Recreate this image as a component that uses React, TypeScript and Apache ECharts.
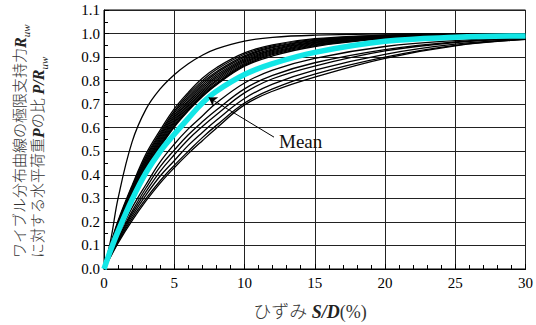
import React, { useEffect, useRef } from "react";
import * as echarts from "echarts";

// strain S/D (%) sample points
const X = [0, 0.5, 1, 2, 3, 4, 5, 6, 7, 8, 10, 12, 15, 20, 25, 30];

// steep outlier curve
const S1 = [0, 0.13, 0.3, 0.54, 0.68, 0.765, 0.825, 0.872, 0.908, 0.935, 0.968, 0.984, 0.993, 0.998, 1.0, 1.0];

// main bundle (top to bottom)
const B1 = [0, 0.11, 0.205, 0.355, 0.49, 0.59, 0.68, 0.75, 0.81, 0.855, 0.918, 0.952, 0.978, 0.993, 0.998, 1.0];
const B2 = [0, 0.108, 0.2, 0.35, 0.48, 0.58, 0.67, 0.742, 0.8, 0.847, 0.912, 0.948, 0.975, 0.992, 0.997, 0.999];
const B3 = [0, 0.105, 0.198, 0.345, 0.472, 0.572, 0.662, 0.733, 0.792, 0.838, 0.905, 0.943, 0.972, 0.991, 0.997, 0.999];
const B4 = [0, 0.103, 0.195, 0.34, 0.465, 0.565, 0.653, 0.725, 0.784, 0.832, 0.9, 0.94, 0.97, 0.99, 0.996, 0.998];
const B5 = [0, 0.1, 0.19, 0.335, 0.458, 0.558, 0.645, 0.716, 0.776, 0.824, 0.894, 0.935, 0.967, 0.988, 0.995, 0.998];
const B6 = [0, 0.1, 0.188, 0.33, 0.452, 0.551, 0.638, 0.709, 0.768, 0.817, 0.889, 0.931, 0.964, 0.987, 0.995, 0.998];
const B7 = [0, 0.098, 0.185, 0.326, 0.445, 0.545, 0.63, 0.701, 0.76, 0.81, 0.884, 0.927, 0.961, 0.986, 0.994, 0.997];
const B8 = [0, 0.096, 0.183, 0.322, 0.44, 0.539, 0.624, 0.694, 0.753, 0.803, 0.879, 0.923, 0.958, 0.984, 0.993, 0.997];
const B9 = [0, 0.095, 0.18, 0.318, 0.434, 0.532, 0.617, 0.687, 0.746, 0.797, 0.874, 0.919, 0.955, 0.983, 0.993, 0.997];
const B10 = [0, 0.093, 0.178, 0.315, 0.43, 0.527, 0.61, 0.68, 0.74, 0.79, 0.869, 0.915, 0.952, 0.981, 0.992, 0.996];
const B11 = [0, 0.092, 0.176, 0.312, 0.425, 0.523, 0.607, 0.676, 0.735, 0.785, 0.865, 0.91, 0.949, 0.98, 0.991, 0.996];
const B12 = [0, 0.09, 0.175, 0.31, 0.42, 0.518, 0.603, 0.672, 0.732, 0.782, 0.861, 0.905, 0.945, 0.978, 0.99, 0.995];

// lower curves (top to bottom)
const L1 = [0, 0.075, 0.14, 0.26, 0.36, 0.455, 0.53, 0.595, 0.65, 0.705, 0.79, 0.845, 0.895, 0.945, 0.97, 0.982];
const L2 = [0, 0.07, 0.13, 0.245, 0.345, 0.435, 0.505, 0.57, 0.625, 0.675, 0.765, 0.822, 0.876, 0.932, 0.965, 0.98];
const L3 = [0, 0.065, 0.125, 0.235, 0.33, 0.415, 0.485, 0.55, 0.605, 0.655, 0.748, 0.808, 0.862, 0.926, 0.962, 0.979];
const L4 = [0, 0.06, 0.12, 0.225, 0.315, 0.395, 0.46, 0.525, 0.58, 0.632, 0.724, 0.785, 0.845, 0.912, 0.955, 0.976];
const L5 = [0, 0.058, 0.115, 0.215, 0.3, 0.375, 0.44, 0.5, 0.558, 0.61, 0.705, 0.765, 0.828, 0.9, 0.95, 0.975];
const L6 = [0, 0.055, 0.11, 0.205, 0.29, 0.365, 0.43, 0.49, 0.545, 0.598, 0.697, 0.755, 0.815, 0.895, 0.948, 0.975];

// mean curve
const MEAN = [0, 0.085, 0.16, 0.295, 0.41, 0.5, 0.572, 0.64, 0.705, 0.755, 0.826, 0.872, 0.92, 0.967, 0.984, 0.99];

const BLACK_CURVES = [S1, B1, B2, B3, B4, B5, B6, B7, B8, B9, B10, B11, B12, L1, L2, L3, L4, L5, L6];

// annotation arrow (data coords): tail near the label, head on the mean curve
const ARROW_FROM = [12.1, 0.56];
const ARROW_TO = [7.45, 0.728];

const SERIF = "'Liberation Serif', 'Times New Roman', 'Noto Sans CJK JP', serif";
const TITLE_FONT = "'Liberation Serif', 'Noto Sans CJK JP', serif";

export default function App() {
  const ref = useRef<HTMLDivElement>(null);

  useEffect(() => {
    if (!ref.current) return;
    const chart = echarts.init(ref.current, undefined, { renderer: "svg" });

    const toPts = (ys: number[]) => X.map((x, i) => [x, ys[i]]);

    const rich = {
      it: { fontFamily: SERIF, fontStyle: "italic", fontWeight: "bold", fontSize: 16, fill: "#222", lineHeight: 22 },
      sub: { fontFamily: SERIF, fontStyle: "italic", fontSize: 11, fill: "#222", verticalAlign: "bottom", lineHeight: 12 },
    };

    const series: any[] = BLACK_CURVES.map((ys) => ({
      type: "line",
      data: toPts(ys),
      smooth: 0.4,
      showSymbol: false,
      symbol: "none",
      lineStyle: { color: "#000", width: 1.3 },
      silent: true,
      z: 3,
    }));

    series.push({
      type: "line",
      name: "Mean",
      data: toPts(MEAN),
      smooth: 0.4,
      showSymbol: false,
      symbol: "none",
      lineStyle: { color: "#12e6e6", width: 5.5 },
      silent: true,
      z: 5,
      markLine: {
        silent: true,
        symbol: ["none", "arrow"],
        symbolSize: 8,
        label: { show: false },
        lineStyle: { color: "#000", width: 1, type: "solid" },
        data: [[{ coord: ARROW_FROM }, { coord: ARROW_TO }]],
        z: 6,
      },
    });

    chart.setOption({
      animation: false,
      backgroundColor: "#fff",
      grid: {
        left: 104,
        right: 5,
        top: 10,
        bottom: 56,
        show: true,
        borderColor: "#000",
        borderWidth: 1,
        backgroundColor: "transparent",
      },
      xAxis: {
        type: "value",
        min: 0,
        max: 30,
        interval: 5,
        axisLine: { show: true, onZero: false, lineStyle: { color: "#000", width: 1 } },
        axisTick: { show: true, inside: true, length: 5, lineStyle: { color: "#000" } },
        minorTick: { show: true, splitNumber: 5, length: 4, lineStyle: { color: "#000" } },
        splitLine: { show: true, lineStyle: { color: "#222", width: 1 } },
        axisLabel: { color: "#000", fontFamily: SERIF, fontSize: 15, margin: 6 },
      },
      yAxis: {
        type: "value",
        min: 0,
        max: 1.1,
        interval: 0.1,
        axisLine: { show: true, onZero: false, lineStyle: { color: "#000", width: 1 } },
        axisTick: { show: true, inside: true, length: 5, lineStyle: { color: "#000" } },
        minorTick: { show: true, splitNumber: 2, length: 4, lineStyle: { color: "#000" } },
        splitLine: { show: true, lineStyle: { color: "#222", width: 1 } },
        axisLabel: {
          color: "#000",
          fontFamily: SERIF,
          fontSize: 15,
          margin: 4,
          formatter: (v: number) => v.toFixed(1),
        },
      },
      graphic: [
        {
          type: "text",
          x: 20,
          y: 258,
          rotation: Math.PI / 2,
          style: {
            text: "ワイブル分布曲線の極限支持力{it|R}{sub|uw}",
            rich,
            fontFamily: TITLE_FONT,
            fontSize: 15,
            fontWeight: 300,
            fill: "#333",
            lineHeight: 22,
            align: "left",
            verticalAlign: "middle",
          },
        },
        {
          type: "text",
          x: 38,
          y: 258,
          rotation: Math.PI / 2,
          style: {
            text: "に対する水平荷重{it|P}の比 {it|P/R}{sub|uw}",
            rich,
            fontFamily: TITLE_FONT,
            fontSize: 15,
            fontWeight: 300,
            fill: "#333",
            lineHeight: 22,
            align: "left",
            verticalAlign: "middle",
          },
        },
        {
          type: "text",
          x: 310,
          y: 312,
          style: {
            text: "ひずみ {s|S/D}(%)",
            rich: {
              s: { fontFamily: SERIF, fontStyle: "italic", fontWeight: "bold", fontSize: 18, fill: "#222" },
            },
            fontFamily: TITLE_FONT,
            fontSize: 18,
            fontWeight: 300,
            fill: "#333",
            align: "center",
            verticalAlign: "middle",
          },
        },
        {
          type: "text",
          x: 279,
          y: 141,
          style: {
            text: "Mean",
            fontFamily: SERIF,
            fontSize: 19,
            fill: "#111",
            align: "left",
            verticalAlign: "middle",
          },
          z: 10,
        },
      ],
      series,
    });

    return () => chart.dispose();
  }, []);

  return (
    <div
      ref={ref}
      style={{ position: "fixed", left: 0, top: 0, width: 536, height: 325, background: "#fff" }}
    />
  );
}
